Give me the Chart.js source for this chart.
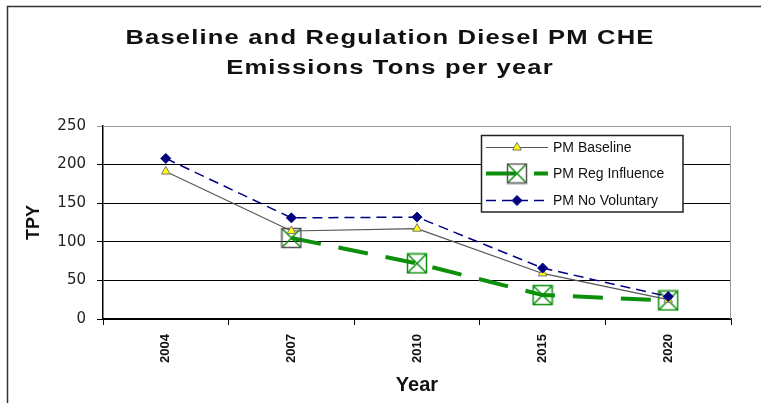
<!DOCTYPE html>
<html>
<head>
<meta charset="utf-8">
<title>Baseline and Regulation Diesel PM CHE</title>
<script src="https://cdn.jsdelivr.net/npm/chart.js@4/dist/chart.umd.min.js"></script>
<style>
    html, body { margin: 0; padding: 0; background: #fff; }
    canvas { display: block; }
</style>
</head>
<body>
<canvas id="pmChart" width="761" height="403"></canvas>
<script>
// Chart data
const titleLines = ['Baseline and Regulation Diesel PM CHE', 'Emissions Tons per year'];
const years = ['2004', '2007', '2010', '2015', '2020'];
const pmBaseline = [191, 114, 117, 59, 25];
const pmRegInfluence = [null, 105, 72, 31, 24];
const pmNoVoluntary = [208, 131, 132, 66, 29];
const seriesLabels = ['PM Baseline', 'PM Reg Influence', 'PM No Voluntary'];
const yMin = 0;
const yMax = 250;
const yStep = 50;

const GREEN = '#0c900c';
const NAVY = '#000080';

/**
 * Square-with-cross marker used by the regulation series
 */
function boxMarker(edgeColor) {
    const c = document.createElement('canvas');
    c.width = 22;
    c.height = 22;
    const g = c.getContext('2d');
    g.lineWidth = 1.5;
    g.strokeStyle = GREEN;
    g.beginPath();
    g.moveTo(2, 2); g.lineTo(20, 20);
    g.moveTo(20, 2); g.lineTo(2, 20);
    g.stroke();
    g.strokeStyle = edgeColor;
    g.strokeRect(1.5, 1.5, 19, 19);
    return c;
}

const greenBox = boxMarker(GREEN);
const grayBox = boxMarker('#555');

// Outer frame, title and plot border
const framePlugin = {
    id: 'frame',
    beforeDraw(chart) {
        const ctx = chart.ctx;
        ctx.save();
        ctx.fillStyle = '#fff';
        ctx.fillRect(0, 0, chart.width, chart.height);
        ctx.strokeStyle = '#333';
        ctx.lineWidth = 1.5;
        ctx.beginPath();
        ctx.moveTo(7.5, chart.height);
        ctx.lineTo(7.5, 6.5);
        ctx.lineTo(chart.width, 6.5);
        ctx.stroke();

        ctx.fillStyle = '#111';
        ctx.font = 'bold 20px "Liberation Sans", Arial, sans-serif';
        ctx.textAlign = 'center';
        ctx.textBaseline = 'alphabetic';
        ctx.letterSpacing = '0.9px';
        ctx.translate(390, 0);
        ctx.scale(1.28, 1);
        ctx.fillText(titleLines[0], 0, 43.5);
        ctx.fillText(titleLines[1], 0, 74);
        ctx.restore();
    },
    beforeDatasetsDraw(chart) {
        const ctx = chart.ctx;
        const a = chart.chartArea;
        ctx.save();
        ctx.strokeStyle = '#999';
        ctx.lineWidth = 1;
        ctx.beginPath();
        ctx.moveTo(a.left, a.top + 0.5);
        ctx.lineTo(a.right - 0.5, a.top + 0.5);
        ctx.lineTo(a.right - 0.5, a.bottom);
        ctx.stroke();
        ctx.restore();
    }
};

// Boxed legend inside the plot, Excel style (line + marker)
const boxLegendPlugin = {
    id: 'boxLegend',
    afterDatasetsDraw(chart) {
        const ctx = chart.ctx;
        const box = { x: 481.5, y: 135.5, w: 201.5, h: 76.5 };
        const rows = [147.5, 173.5, 200.5];
        ctx.save();
        ctx.fillStyle = '#fff';
        ctx.fillRect(box.x, box.y, box.w, box.h);
        ctx.strokeStyle = '#222';
        ctx.lineWidth = 1.5;
        ctx.strokeRect(box.x, box.y, box.w, box.h);

        chart.data.datasets.forEach((ds, i) => {
            const y = rows[i];
            ctx.save();
            ctx.strokeStyle = ds.borderColor;
            ctx.lineWidth = ds.borderWidth;
            ctx.setLineDash(ds.borderDash || []);
            ctx.beginPath();
            ctx.moveTo(486, y);
            ctx.lineTo(548, y);
            ctx.stroke();
            ctx.setLineDash([]);
            ctx.fillStyle = ds.pointBackgroundColor;
            ctx.strokeStyle = ds.pointBorderColor;
            ctx.lineWidth = 1;
            const style = Array.isArray(ds.pointStyle) ? grayBox : ds.pointStyle;
            Chart.helpers.drawPoint(ctx, {
                pointStyle: style,
                radius: ds.pointRadius,
                rotation: 0,
                borderWidth: 1
            }, 517, y);
            ctx.restore();

            ctx.fillStyle = '#111';
            ctx.font = '14px "Liberation Sans", Arial, sans-serif';
            ctx.textAlign = 'left';
            ctx.textBaseline = 'middle';
            ctx.fillText(ds.label, 553, y + 0.5);
        });
        ctx.restore();
    }
};

document.addEventListener('DOMContentLoaded', function() {
    const ctx = document.getElementById('pmChart');

    new Chart(ctx, {
        type: 'line',
        data: {
            labels: years,
            datasets: [
                {
                    label: seriesLabels[0],
                    data: pmBaseline,
                    borderColor: '#555',
                    borderWidth: 1.2,
                    pointStyle: 'triangle',
                    pointRadius: 5,
                    pointBackgroundColor: '#ffff00',
                    pointBorderColor: '#777',
                    pointBorderWidth: 1,
                    tension: 0,
                    order: 2
                },
                {
                    label: seriesLabels[1],
                    data: pmRegInfluence,
                    borderColor: GREEN,
                    borderWidth: 4,
                    borderDash: [30, 18],
                    pointStyle: [greenBox, grayBox, greenBox, greenBox, greenBox],
                    pointRadius: 10,
                    pointBackgroundColor: 'rgba(0,0,0,0)',
                    pointBorderColor: GREEN,
                    tension: 0,
                    order: 3
                },
                {
                    label: seriesLabels[2],
                    data: pmNoVoluntary,
                    borderColor: NAVY,
                    borderWidth: 1.5,
                    borderDash: [10, 6],
                    pointStyle: 'rectRot',
                    pointRadius: 5,
                    pointBackgroundColor: NAVY,
                    pointBorderColor: NAVY,
                    pointBorderWidth: 1,
                    tension: 0,
                    order: 1
                }
            ]
        },
        options: {
            responsive: false,
            animation: false,
            layout: {
                padding: { left: 20, top: 126, right: 30, bottom: 0 }
            },
            plugins: {
                legend: { display: false },
                title: { display: false },
                tooltip: { enabled: false }
            },
            scales: {
                x: {
                    offset: true,
                    afterFit: s => { s.height = 84; },
                    grid: {
                        offset: true,
                        drawOnChartArea: false,
                        drawTicks: true,
                        tickLength: 6,
                        color: '#000'
                    },
                    border: { color: '#000', width: 1.5 },
                    ticks: {
                        minRotation: 90,
                        maxRotation: 90,
                        padding: 9,
                        color: '#111',
                        font: { family: '"Liberation Sans", Arial, sans-serif', size: 13, weight: 'bold' }
                    },
                    title: {
                        display: true,
                        text: 'Year',
                        color: '#111',
                        padding: { top: 0, bottom: 6 },
                        font: { family: '"Liberation Sans", Arial, sans-serif', size: 20, weight: 'bold' }
                    }
                },
                y: {
                    min: yMin,
                    max: yMax,
                    afterFit: s => { s.width = 83; },
                    grid: {
                        color: c => (c.tick && c.tick.value === yMax ? '#999' : '#000'),
                        lineWidth: 1,
                        drawTicks: true,
                        tickLength: 6
                    },
                    border: { color: '#000', width: 1.5 },
                    ticks: {
                        stepSize: yStep,
                        padding: 11,
                        color: '#222',
                        font: { family: '"DejaVu Sans", sans-serif', size: 15 }
                    },
                    title: {
                        display: true,
                        text: 'TPY',
                        color: '#111',
                        padding: { top: 3, bottom: 0 },
                        font: { family: '"Liberation Sans", Arial, sans-serif', size: 18, weight: 'bold' }
                    }
                }
            }
        },
        plugins: [framePlugin, boxLegendPlugin]
    });
});
</script>
</body>
</html>
